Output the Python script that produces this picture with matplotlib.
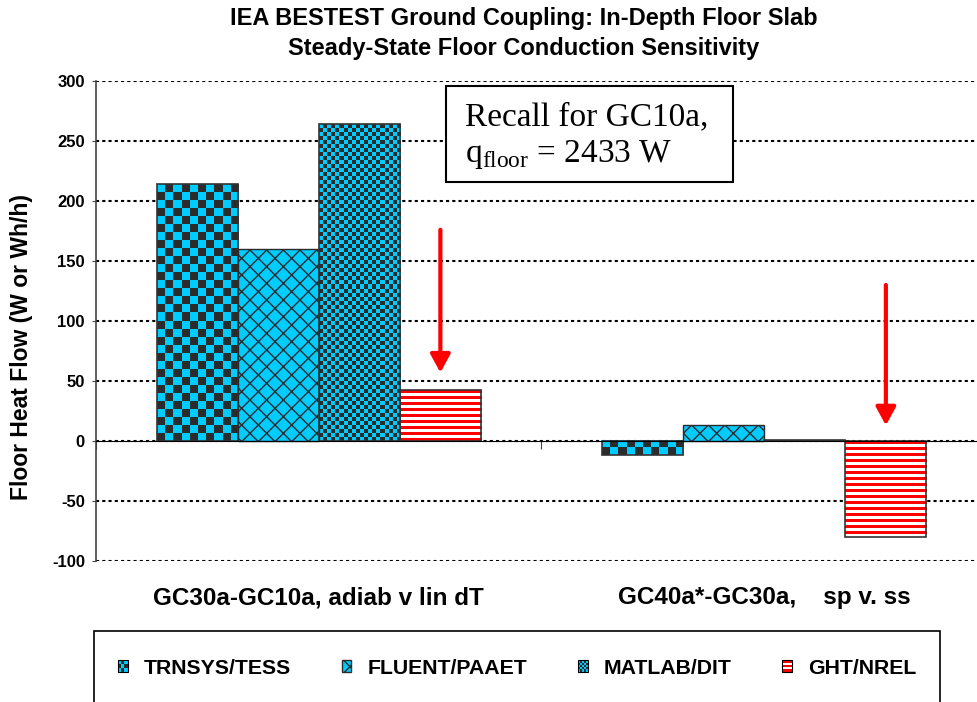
import numpy as np
import matplotlib
matplotlib.use('Agg')
import matplotlib.pyplot as plt
from matplotlib.colors import ListedColormap
from matplotlib.patches import Rectangle, Patch
from matplotlib.legend_handler import HandlerBase
from matplotlib.transforms import blended_transform_factory

plt.rcParams['font.family'] = 'Liberation Sans'
plt.rcParams['font.weight'] = 'bold'
plt.rcParams['mathtext.fontset'] = 'custom'
plt.rcParams['mathtext.rm'] = 'Liberation Serif:weight=normal'

# Floor heat flow differences (W or Wh/h)
cases = ['GC30a-GC10a, adiab v lin dT', 'GC40a*-GC30a,    sp v. ss']
programs = ['TRNSYS/TESS', 'FLUENT/PAAET', 'MATLAB/DIT', 'GHT/NREL']
trnsys = [214.0, -11.8]
fluent = [160.3, 13.6]
matlab = [264.0, 0.8]
ght = [42.5, -80.0]
yticks = list(range(-100, 301, 50))

# red arrows over the GHT bars (tail, tip)
arrow_tail = [176, 130]
arrow_tip = [57, 13]

CYAN = '#00CCFF'
DARK = '#2b2b2b'
RED = '#FF0000'

checker = np.array([[0, 1], [1, 0]])
stripes = np.array([[1], [1], [1], [0], [0], [0]])


def fill_pattern(ax, rect, tile, colors, cell_px, zorder=2):
    """Fill a bar with a repeated tile drawn as an image."""
    x0, y0 = rect.get_x(), rect.get_y()
    w, h = rect.get_width(), rect.get_height()
    (px0, py0), (px1, py1) = ax.transData.transform([(x0, y0), (x0 + w, y0 + h)])
    nx = max(1, int(round(abs(px1 - px0) / cell_px)))
    ny = max(1, int(round(abs(py1 - py0) / cell_px)))
    reps = (ny // tile.shape[0] + 1, nx // tile.shape[1] + 1)
    img = np.tile(tile, reps)[:ny, :nx]
    ax.imshow(img, cmap=ListedColormap(colors), vmin=0, vmax=len(colors) - 1,
              extent=(x0, x0 + w, min(y0, y0 + h), max(y0, y0 + h)),
              origin='upper', interpolation='nearest', aspect='auto', zorder=zorder)


class TileHandler(HandlerBase):
    def __init__(self, tile, colors, n):
        super().__init__()
        self.tile = tile
        self.colors = colors
        self.n = n

    def create_artists(self, legend, orig_handle, xdescent, ydescent,
                       width, height, fontsize, trans):
        arts = []
        cw, ch = width / self.n, height / self.n
        for i in range(self.n):
            for j in range(self.n):
                k = self.tile[i % self.tile.shape[0], j % self.tile.shape[1]]
                arts.append(Rectangle((-xdescent + j * cw, -ydescent + height - (i + 1) * ch),
                                      cw, ch, facecolor=self.colors[k], edgecolor='none',
                                      transform=trans))
        arts.append(Rectangle((-xdescent, -ydescent), width, height, fill=False,
                              edgecolor='black', lw=0.8, transform=trans))
        return arts


fig = plt.figure(figsize=(9.78, 7.02), dpi=100)
ax = fig.add_axes([96 / 978, 141 / 702, 891 / 978, 480 / 702])
ax.set_xlim(-0.5, 1.5)
ax.set_ylim(-100, 300)

x = np.arange(len(cases))
width = 0.182
series = [trnsys, fluent, matlab, ght]
bars = []
for k, vals in enumerate(series):
    pos = x + (k - 1.5) * width
    if k == 1:
        b = ax.bar(pos, vals, width, color=CYAN, edgecolor=DARK, hatch='xx', lw=1, zorder=3)
    else:
        b = ax.bar(pos, vals, width, facecolor='none', edgecolor='#333333', lw=1.2, zorder=3)
    bars.append(b)

ax.set_xlim(-0.5, 1.5)
ax.set_ylim(-100, 300)
for rect in bars[0]:
    fill_pattern(ax, rect, checker, [CYAN, DARK], 8)
for rect in bars[2]:
    fill_pattern(ax, rect, checker, [CYAN, DARK], 4)
for rect in bars[3]:
    fill_pattern(ax, rect, stripes, ['white', RED], 1)
ax.set_xlim(-0.5, 1.5)
ax.set_ylim(-100, 300)

# arrows pointing at the GHT results
for rect, tail, tip in zip(bars[3], arrow_tail, arrow_tip):
    xc = rect.get_x() + rect.get_width() / 2
    ax.annotate('', xy=(xc, tip), xytext=(xc, tail),
                arrowprops=dict(arrowstyle='-|>,head_length=0.55,head_width=0.3',
                                color=RED, lw=3, mutation_scale=20,
                                shrinkA=0, shrinkB=0), zorder=5)

# axes styling
for side in ['top', 'right']:
    ax.spines[side].set_visible(False)
ax.spines['left'].set_color('#444444')
ax.spines['left'].set_linewidth(1.2)
ax.spines['bottom'].set_position(('data', 0))
ax.spines['bottom'].set_color('black')
ax.spines['bottom'].set_zorder(4)
ax.set_yticks(yticks)
ax.set_yticklabels([str(v) for v in yticks], fontsize=12, fontweight='bold')
ax.set_xticks([-0.5, 0.5, 1.5])
ax.set_xticklabels([])
ax.tick_params(axis='y', length=3, pad=5, color='#444444')
ax.tick_params(axis='x', length=6, direction='out', color='#444444')
ax.set_axisbelow(True)
ax.yaxis.grid(True, color='black', lw=1.5, linestyle=(0, (1.5, 1.5)))
ax.patch.set_visible(False)

trans = blended_transform_factory(ax.transData, ax.transAxes)
for i, label in enumerate(cases):
    ax.text(i, -0.077, label, transform=trans, ha='center', va='center',
            fontsize=17.5, fontweight='bold')

fig.text(22 / 978, 1 - 347.5 / 702, 'Floor Heat Flow (W or Wh/h)', rotation=90,
         ha='center', va='center', fontsize=16.5, fontweight='bold')
fig.text(524 / 978, 1 - 18 / 702, 'IEA BESTEST Ground Coupling: In-Depth Floor Slab',
         ha='center', va='center', fontsize=17, fontweight='bold')
fig.text(524 / 978, 1 - 49 / 702, 'Steady-State Floor Conduction Sensitivity',
         ha='center', va='center', fontsize=17, fontweight='bold')

# note box
ax.add_patch(Rectangle((0.3928, 0.7896), 0.3221, 0.2, transform=ax.transAxes,
                       facecolor='white', edgecolor='black', lw=1.5, zorder=6))
ax.text(0.4141, 0.9083, 'Recall for GC10a,', transform=ax.transAxes, va='baseline',
        ha='left', family='Liberation Serif', fontweight='normal', fontsize=24, zorder=7)
ax.text(0.4141, 0.8313, r'q$_{\mathrm{floor}}$ = 2433 W', transform=ax.transAxes,
        va='baseline', ha='left', family='Liberation Serif', fontweight='normal',
        fontsize=24, zorder=7)

# legend
h_trn = Patch()
h_flu = Patch(facecolor=CYAN, edgecolor=DARK, hatch='xx')
h_mat = Patch()
h_ght = Patch()
handler_map = {
    h_trn: TileHandler(checker, [CYAN, DARK], 3),
    h_mat: TileHandler(checker, [CYAN, DARK], 5),
    h_ght: TileHandler(np.array([[1], [0]]), ['white', RED], 5),
}
fig.legend([h_trn, h_flu, h_mat, h_ght], programs, handler_map=handler_map, ncol=4,
           loc='center left', bbox_to_anchor=(118 / 978, 1 - 668 / 702), frameon=False,
           handlelength=0.45, handleheight=0.45, handletextpad=0.75, columnspacing=2.4,
           borderpad=0, borderaxespad=0, prop=dict(size=15.3, weight='bold'))
fig.add_artist(Rectangle((94 / 978, -0.02), (940 - 94) / 978, (702 - 631) / 702 + 0.02,
                         transform=fig.transFigure, fill=False, edgecolor='black', lw=1.2))

fig.savefig('out.png', dpi=100)
